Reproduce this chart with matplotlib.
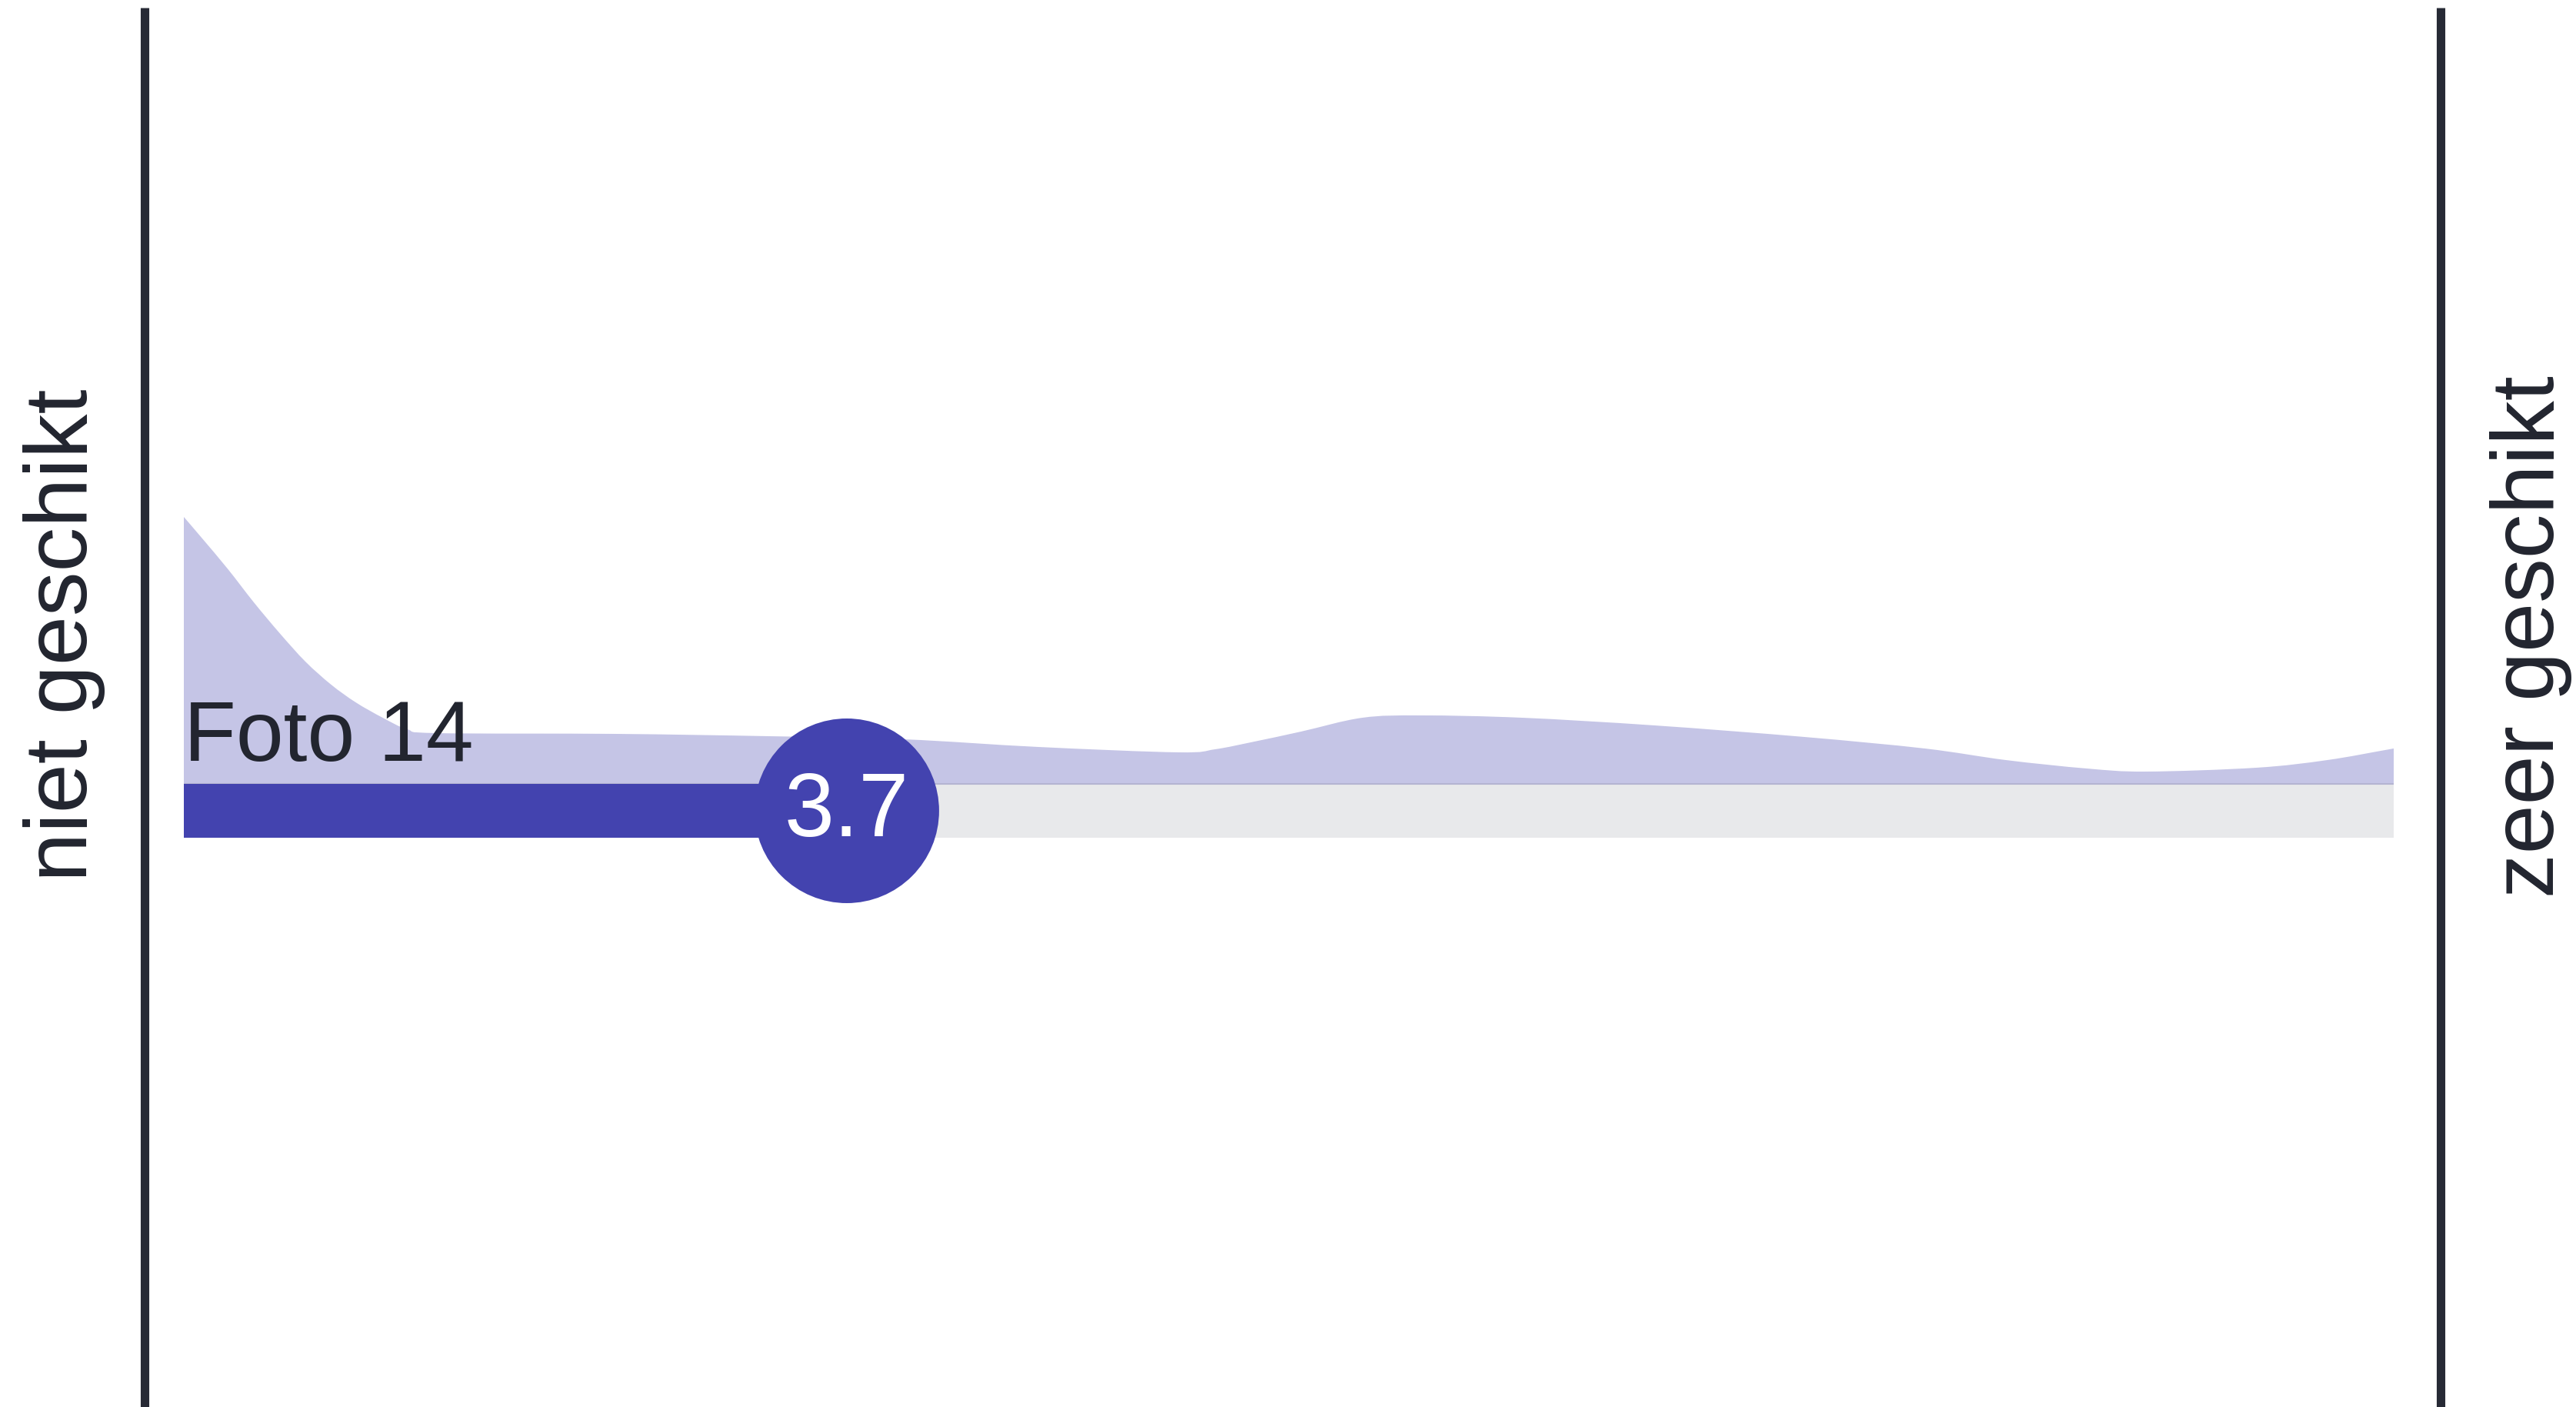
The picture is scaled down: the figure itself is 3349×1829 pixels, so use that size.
import numpy as np
import matplotlib.pyplot as plt
from matplotlib.path import Path
from matplotlib.patches import PathPatch

# schaal 1 - 10, gemiddelde score
label = "Foto 14"
score = 3.7
scale_min, scale_max = 1, 10
left_label = "niet geschikt"
right_label = "zeer geschikt"

dens_x = [1.0, 1.075, 1.18, 1.285, 1.39, 1.495, 1.60, 1.70, 1.81, 1.91, 2.03,
          2.76, 3.38, 3.93, 4.48, 5.05, 5.20, 5.36, 5.55, 5.80, 6.04, 6.45, 6.99,
          7.60, 8.09, 8.42, 8.75, 8.99, 9.44, 9.73, 10.0]
dens_y = [0.347, 0.319, 0.279, 0.236, 0.196, 0.159, 0.129, 0.106, 0.086, 0.071,
          0.066, 0.065, 0.062, 0.058, 0.048, 0.041, 0.045, 0.055, 0.068, 0.086,
          0.089, 0.086, 0.076, 0.061, 0.046, 0.031, 0.020, 0.016, 0.021, 0.031,
          0.046]

# kleuren
blue = "#4343AF"
lavender = "#C5C5E6"
grey = "#E8E9EB"
dark = "#272A35"

W, H = 3349, 1829
bar_left_px, bar_right_px = 239, 3112
px_per_unit = (bar_right_px - bar_left_px) / (scale_max - scale_min)

def px2v(px):
    return scale_min + (px - bar_left_px) / px_per_unit

def smooth_area(xs, ys, base):
    # vloeiende lijn door de punten (Catmull-Rom als Bezier), gesloten op de basislijn
    pts = np.column_stack([xs, ys])
    ext = np.vstack([2 * pts[0] - pts[1], pts, 2 * pts[-1] - pts[-2]])
    verts = [(xs[0], base), tuple(pts[0])]
    codes = [Path.MOVETO, Path.LINETO]
    for i in range(1, len(ext) - 2):
        p0, p1, p2, p3 = ext[i - 1], ext[i], ext[i + 1], ext[i + 2]
        c1 = p1 + (p2 - p0) / 6
        c2 = p2 - (p3 - p1) / 6
        verts += [tuple(c1), tuple(c2), tuple(p2)]
        codes += [Path.CURVE4] * 3
    verts += [(xs[-1], base), (xs[0], base)]
    codes += [Path.LINETO, Path.CLOSEPOLY]
    return Path(verts, codes)

plt.rcParams['font.family'] = ['Liberation Sans', 'DejaVu Sans']

fig = plt.figure(figsize=(W / 100, H / 100), dpi=100)
ax = fig.add_axes([0, 0, 1, 1])
ax.axis('off')

bar_y0, bar_h = 740, 70
base = bar_y0 + bar_h
dens_px = 1000

# achtergrondbalk en dichtheid
ax.barh(bar_y0 + bar_h / 2, scale_max - scale_min, left=scale_min, height=bar_h,
        color=grey, zorder=1)
area = smooth_area(dens_x, base + np.array(dens_y) * dens_px, base)
ax.add_patch(PathPatch(area, facecolor=lavender, edgecolor='none', zorder=1))
ax.hlines(base, scale_min, scale_max, color="#B4B4D2", linewidth=1.5, zorder=2)

# score
ax.barh(bar_y0 + bar_h / 2, score - scale_min, left=scale_min, height=bar_h,
        color=blue, zorder=3)
ax.scatter([score], [bar_y0 + bar_h / 2], s=(2 * 120 * 0.72) ** 2, color=blue,
           edgecolors='none', zorder=4)
ax.text(score, bar_y0 + bar_h / 2 - 2, f"{score:.1f}", color="white", fontsize=84,
        ha='center', va='center', zorder=5)

ax.text(scale_min, H - 989, label, color="#22252F", fontsize=80, ha='left',
        va='baseline', zorder=5)

# grenslijnen
ax.vlines([px2v(188), px2v(3173)], 0, H - 10, color=dark, linewidth=8)

ax.text(px2v(84), H - 826, left_label, rotation=90, fontsize=83, color="#22252F",
        ha='center', va='center')
ax.text(px2v(3290), H - 828, right_label, rotation=90, fontsize=83, color="#22252F",
        ha='center', va='center')

ax.set_xlim(px2v(0), px2v(W))
ax.set_ylim(0, H)

fig.savefig("out.png", dpi=100, facecolor="white")
